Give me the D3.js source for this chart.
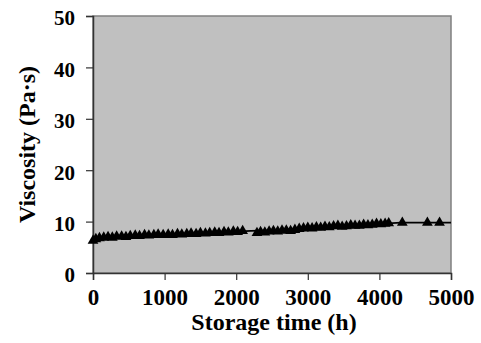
<!DOCTYPE html>
<html>
<head>
<meta charset="utf-8">
<script src="https://cdn.jsdelivr.net/npm/d3@7"></script>
<style>
  body { margin: 0; background: #fff; }
  svg { display: block; font-family: "Liberation Serif", "Times New Roman", serif; font-weight: bold; }
</style>
</head>
<body>
<div id="chart"></div>
<script>
// storage time (h) and viscosity (Pa·s)
const hours = [0, 40, 90, 150, 210, 270, 330, 400, 460, 520, 590, 650, 720, 780, 850, 910, 980,
  1050, 1110, 1180, 1240, 1310, 1370, 1440, 1500, 1570, 1630, 1700, 1760, 1830, 1890, 1960, 2020, 2090,
  2290, 2340, 2400, 2460, 2520, 2580, 2640, 2700, 2760, 2820, 2880, 2940, 3000, 3060, 3120, 3180,
  3240, 3300, 3360, 3420, 3480, 3540, 3600, 3660, 3720, 3780, 3840, 3900, 3960, 4020, 4080, 4130,
  4320, 4670, 4840];
const viscosity = [6.3, 6.6, 6.8, 6.9, 7.0, 6.9, 7.1, 7.1, 7.0, 7.2, 7.3, 7.2, 7.4, 7.3, 7.4, 7.5, 7.4,
  7.5, 7.4, 7.6, 7.5, 7.6, 7.7, 7.6, 7.8, 7.7, 7.8, 7.9, 7.8, 8.0, 7.9, 8.1, 8.0, 8.2,
  7.8, 8.0, 7.9, 8.1, 8.2, 8.1, 8.3, 8.3, 8.2, 8.4, 8.6, 8.7, 8.8, 8.7, 8.9, 8.8,
  9.0, 8.9, 9.1, 9.2, 9.0, 9.1, 9.3, 9.2, 9.2, 9.4, 9.3, 9.4, 9.6, 9.5, 9.6, 9.7,
  9.8, 9.8, 9.8];

// the trend line drawn through the points
const lineHours = [0, 60, 200, 500, 1000, 1500, 2000, 2200, 2500, 3000, 3500, 4000, 4300, 5000];
const lineVisc = [6.2, 6.6, 6.85, 7.05, 7.4, 7.7, 8.05, 8.2, 8.3, 8.75, 9.15, 9.55, 9.8, 9.8];

const xTicks = [0, 1000, 2000, 3000, 4000, 5000];
const yTicks = [0, 10, 20, 30, 40, 50];

const width = 481, height = 343;
const marginLeft = 93, marginRight = 30, marginTop = 16, marginBottom = 70;

const svg = d3.select("#chart").append("svg")
  .attr("width", width)
  .attr("height", height);

const x = d3.scaleLinear().domain([0, 5000]).range([marginLeft, width - marginRight]);
const y = d3.scaleLinear().domain([0, 50]).range([height - marginBottom, marginTop]);

// plot area
svg.append("rect")
  .attr("x", x(0)).attr("y", y(50))
  .attr("width", x(5000) - x(0)).attr("height", y(0) - y(50))
  .attr("fill", "#c0c0c0")
  .attr("stroke", "#808080")
  .attr("stroke-width", 1.5);

// axes
const xAxis = svg.append("g")
  .attr("transform", `translate(0,${y(0)})`)
  .call(d3.axisBottom(x).tickValues(xTicks).tickSize(7).tickPadding(9).tickFormat(d3.format("d")));
const yAxis = svg.append("g")
  .attr("transform", `translate(${x(0)},0)`)
  .call(d3.axisLeft(y).tickValues(yTicks).tickSize(7).tickPadding(11));

[xAxis, yAxis].forEach(g => {
  g.select(".domain").attr("stroke", "#333").attr("stroke-width", 1.5);
  g.selectAll(".tick line").attr("stroke", "#333").attr("stroke-width", 1.2);
  g.selectAll("text")
    .attr("fill", "#000")
    .style("font-family", "'Liberation Serif', serif")
    .style("font-weight", "bold")
    .style("font-size", "21px");
});
xAxis.selectAll("text").attr("dy", "0.71em").style("font-size", "23px");
yAxis.selectAll("text").attr("dy", "0.42em");

// trend line
const points = hours.map((h, i) => ({ h, v: viscosity[i] }));
const linePts = lineHours.map((h, i) => ({ h, v: lineVisc[i] }));

svg.append("path")
  .datum(linePts)
  .attr("fill", "none")
  .attr("stroke", "#000")
  .attr("stroke-width", 1.6)
  .attr("d", d3.line().x(d => x(d.h)).y(d => y(d.v)));

// markers
svg.append("g").selectAll("path")
  .data(points)
  .join("path")
  .attr("transform", d => `translate(${x(d.h)},${y(d.v)})`)
  .attr("d", d3.symbol(d3.symbolTriangle, 50))
  .attr("fill", "#000");

// axis titles
svg.append("text")
  .attr("x", (x(0) + x(5000)) / 2 + 2)
  .attr("y", 330)
  .attr("text-anchor", "middle")
  .style("font-size", "24px")
  .text("Storage time (h)");

svg.append("text")
  .attr("transform", `translate(35,${(y(0) + y(50)) / 2}) rotate(-90)`)
  .attr("text-anchor", "middle")
  .style("font-size", "24px")
  .text("Viscosity (Pa·s)");
</script>
</body>
</html>
